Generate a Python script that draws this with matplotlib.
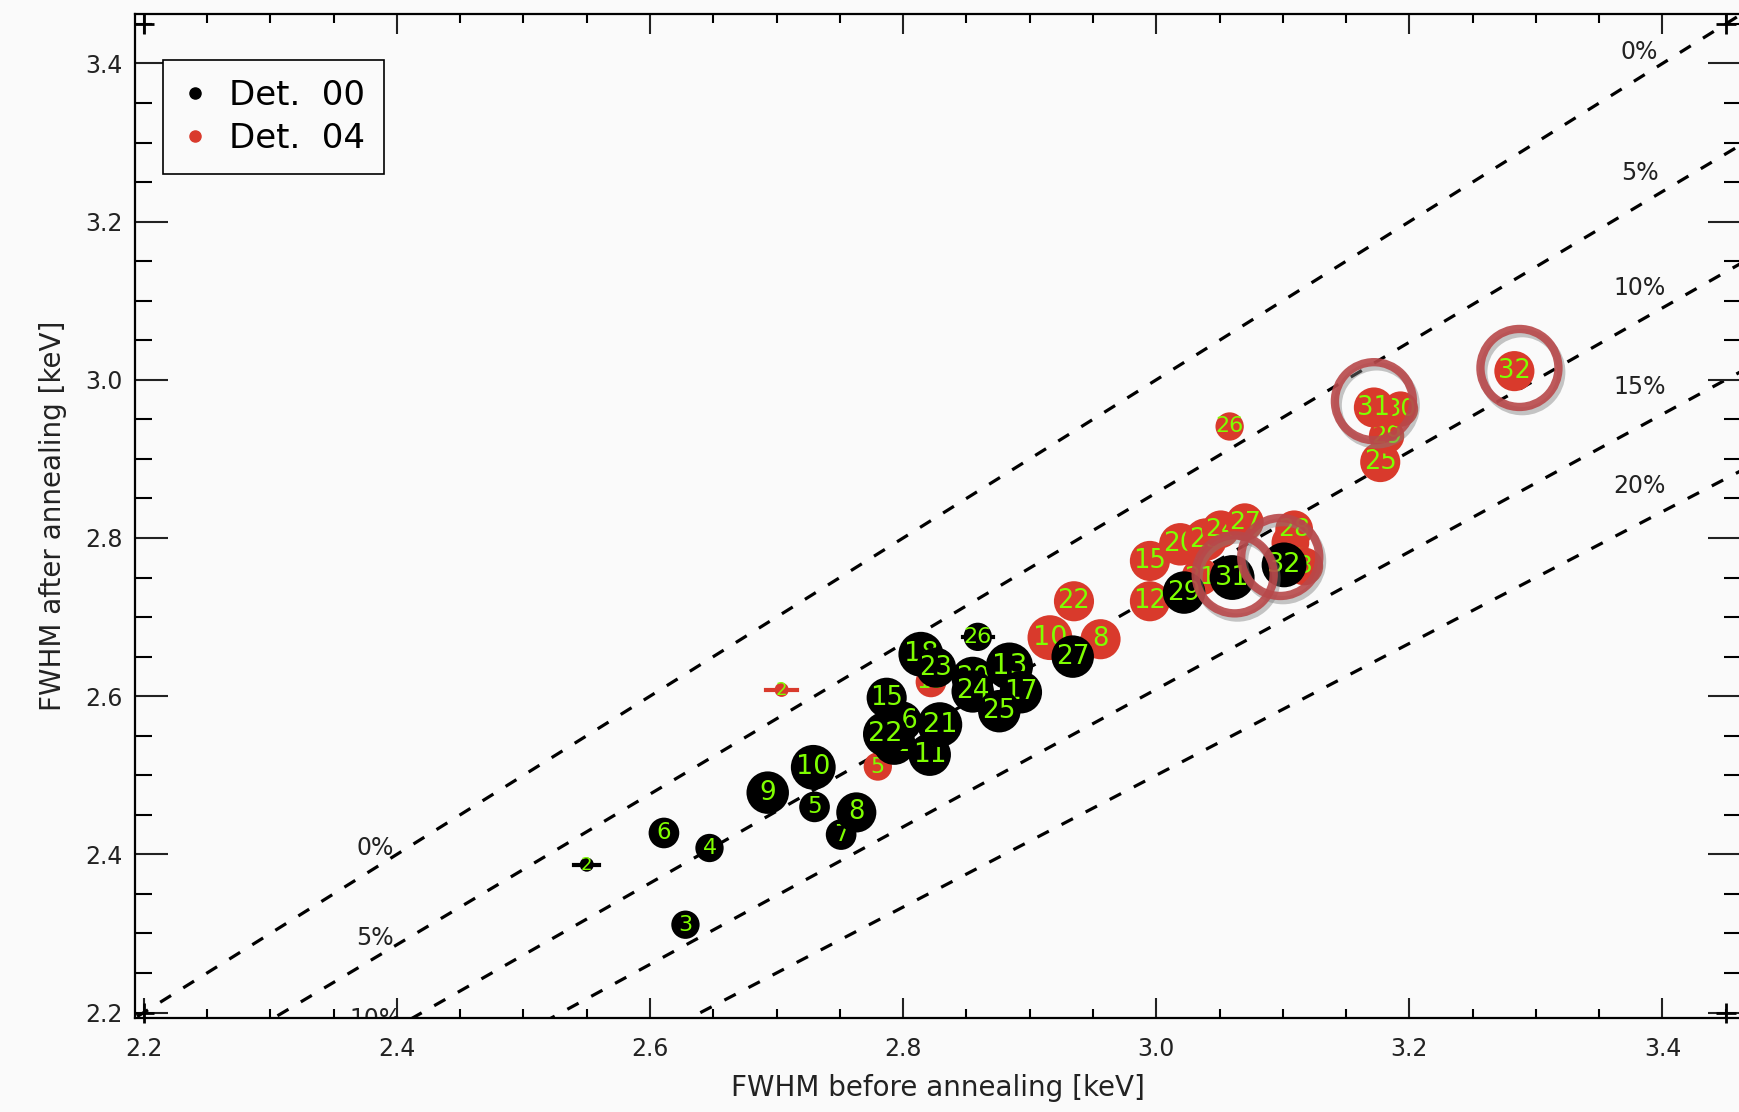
import numpy as np
import matplotlib
matplotlib.use("Agg")
import matplotlib.pyplot as plt
import matplotlib.patheffects as pe
from matplotlib.lines import Line2D

# Det. 00 (black), listed in drawing order
ids00 = ["2", "3", "4", "6", "9", "5", "10", "7", "8", "12", "16", "22", "15",
         "11", "21", "18", "23", "26", "20", "24", "13", "17", "25", "27", "29", "31", "32"]
x00 = [2.550, 2.628, 2.647, 2.611, 2.693, 2.730, 2.729, 2.751, 2.763, 2.793, 2.799, 2.786, 2.787,
       2.821, 2.829, 2.814, 2.826, 2.859, 2.855, 2.855, 2.884, 2.893, 2.876, 2.934, 3.022, 3.060, 3.101]
y00 = [2.387, 2.311, 2.408, 2.427, 2.478, 2.460, 2.510, 2.425, 2.453, 2.540, 2.568, 2.552, 2.598,
       2.526, 2.564, 2.653, 2.636, 2.675, 2.623, 2.606, 2.638, 2.605, 2.581, 2.650, 2.731, 2.750, 2.766]
w00 = [6, 12, 12, 13, 18, 13, 19, 13, 17, 18, 17, 19, 17,
       18, 19, 19, 17, 12, 18, 18, 20, 18, 18, 18, 18, 19, 19]
xerr00 = {"2": 0.010, "26": 0.012}

# Det. 04 (red)
ids04 = ["2", "5", "19", "10", "8", "22", "12", "15", "21", "20", "23", "24", "27",
         "11", "28", "3", "26", "25", "29", "30", "31", "32"]
x04 = [2.704, 2.780, 2.822, 2.916, 2.956, 2.935, 2.995, 2.995, 3.035, 3.019, 3.039, 3.051, 3.070,
       3.106, 3.109, 3.117, 3.058, 3.177, 3.182, 3.193, 3.172, 3.283]
y04 = [2.608, 2.511, 2.618, 2.674, 2.672, 2.720, 2.720, 2.771, 2.751, 2.792, 2.798, 2.811, 2.820,
       2.794, 2.811, 2.764, 2.941, 2.896, 2.929, 2.963, 2.965, 3.011]
w04 = [6, 12, 13, 19, 17, 17, 17, 17, 16, 18, 18, 16, 16,
       16, 16, 16, 12, 17, 15, 15, 17, 17]
xerr04 = {"2": 0.012}

# highlighted points (rings)
ring_x = [3.172, 3.287, 3.062, 3.098]
ring_y = [2.973, 3.015, 2.754, 2.776]

# guide lines: after = before / (1 + p)
pcts = [0, 5, 10, 15, 20]
pct_lift_top = [0.033, 0.04, 0.042, 0.05, 0.048]

corner_x = [2.2, 2.2, 3.45, 3.45]
corner_y = [2.2, 3.45, 2.2, 3.45]

BG = "#fafafa"
RED = "#d93a2c"
GREEN = "#7fff00"
INK = "#222222"

fig = plt.figure(figsize=(17.39, 11.12), dpi=100, facecolor=BG)
ax = fig.add_axes([0.0776, 0.0845, 0.9235, 0.9025], facecolor=BG)
lo, hi = 2.193, 3.462
ax.set_xlim(lo, hi)
ax.set_ylim(lo, hi)

xx = np.array([2.0, 3.6])
for p, lift in zip(pcts, pct_lift_top):
    ax.plot(xx, xx / (1 + p / 100), ls=(0, (4, 4.5)), color="black", lw=2.3, zorder=1)
    xt = 3.382
    ax.text(xt, xt / (1 + p / 100) + lift, f"{p}%", fontsize=17, ha="center", va="center",
            color=INK, zorder=2, clip_on=True)
    xb = 2.383
    ax.text(xb, xb / (1 + p / 100) + 0.025, f"{p}%", fontsize=17, ha="center", va="center",
            color=INK, zorder=2, clip_on=True)

ax.plot(corner_x, corner_y, ls="none", marker="+", ms=14, mew=2, color="black", zorder=2,
        clip_on=False)


def draw(ids, xs, ys, ws, errs, color, z0):
    for i, (lab, x, y, w) in enumerate(zip(ids, xs, ys, ws)):
        z = z0 + i * 0.01
        d = 2 * w * 0.72 * 1.18
        if lab in errs:
            ax.plot([x - errs[lab], x + errs[lab]], [y, y], color=color, lw=3, zorder=z)
        ax.scatter([x], [y], s=d ** 2, color=color, edgecolors="none", zorder=z)
        ax.text(x, y, lab, color=GREEN, fontsize=10 + w * 0.5, ha="center", va="center",
                zorder=z + 0.005)


draw(ids04, x04, y04, w04, xerr04, RED, 3)
draw(ids00, x00, y00, w00, xerr00, "black", 4)

ax.scatter(ring_x, ring_y, s=(2 * 39 * 0.72) ** 2, facecolors="none", edgecolors="#b8484a",
           linewidths=6, alpha=0.9, zorder=6,
           path_effects=[pe.SimpleLineShadow(offset=(2, -3), shadow_color="gray", alpha=0.45),
                         pe.Normal()])

ticks = np.arange(2.2, 3.41, 0.2)
ax.set_xticks(ticks)
ax.set_yticks(ticks)
ax.set_xticks(np.arange(2.25, 3.46, 0.05), minor=True)
ax.set_yticks(np.arange(2.25, 3.46, 0.05), minor=True)
ax.set_xticklabels([f"{t:.1f}" for t in ticks])
ax.set_yticklabels([f"{t:.1f}" for t in ticks])
ax.tick_params(axis="x", which="major", direction="in", length=14.5, width=1.5,
               top=True, labelsize=17, pad=14, colors=INK)
ax.tick_params(axis="x", which="minor", direction="in", length=6.5, width=1.5, top=True)
ax.tick_params(axis="y", which="major", direction="in", length=24, width=1.5,
               right=True, labelsize=17, pad=9, colors=INK)
ax.tick_params(axis="y", which="minor", direction="in", length=12, width=1.5, right=True)
for s in ax.spines.values():
    s.set_linewidth(1.6)

ax.set_xlabel("FWHM before annealing [keV]", fontsize=20, labelpad=9, color=INK)
ax.set_ylabel("FWHM after annealing [keV]", fontsize=20, labelpad=13, color=INK)

handles = [Line2D([], [], ls="none", marker="o", ms=8, color="black"),
           Line2D([], [], ls="none", marker="o", ms=8, color=RED)]
leg = ax.legend(handles, ["Det.  00", "Det.  04"], loc="upper left",
                bbox_to_anchor=(0.0174, 0.9546), borderaxespad=0, fontsize=24.5,
                fancybox=False, framealpha=1, facecolor=BG, edgecolor="black",
                handlelength=0.8, handletextpad=0.6, borderpad=0.55, labelspacing=0.3)
leg.get_frame().set_linewidth(1.2)

fig.savefig("out.png", dpi=100, facecolor=BG)
